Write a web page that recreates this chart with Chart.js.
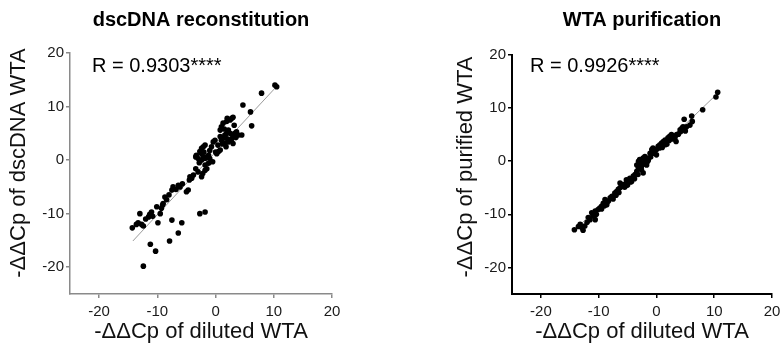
<!DOCTYPE html>
<html>
<head>
<meta charset="utf-8">
<script src="https://cdn.jsdelivr.net/npm/chart.js@4.4.1/dist/chart.umd.min.js"></script>
<style>
html,body{margin:0;padding:0;background:#fff;overflow:hidden;width:780px;height:346px;}
#c1{position:absolute;left:0;top:0;}
#c2{position:absolute;left:390px;top:0;}
</style>
</head>
<body>
<canvas id="c1" width="390" height="346"></canvas>
<canvas id="c2" width="410" height="346"></canvas>
<script>
// ---- data ----
const xTicks = [-20, -10, 0, 10, 20];
const yTicks = [-20, -10, 0, 10, 20];

const leftTitle = "dscDNA reconstitution";
const leftR = "R = 0.9303****";
const leftYLabel = "-\u0394\u0394Cp of dscDNA WTA";
const leftXLabel = "-\u0394\u0394Cp of diluted WTA";

const rightTitle = "WTA purification";
const rightR = "R = 0.9926****";
const rightYLabel = "-\u0394\u0394Cp of purified WTA";
const rightXLabel = "-\u0394\u0394Cp of diluted WTA";

const leftX = [-12.4,-14.3,-13.0,-13.3,-12.7,-12.4,-11.2,-10.3,-7.9,-6.4,-7.5,-5.8,-2.7,-1.8,-9.9,-11.5,-11.0,-11.3,-10.1,-9.5,
  -9.3,-9.0,-8.7,-8.4,-9.1,-7.5,-7.3,-6.4,-6.1,-5.7,-5.0,-4.7,-4.4,-4.1,-4.5,-3.4,-3.0,-2.4,-2.2,-1.8,
  -1.5,-3.3,-3.0,-2.7,-2.4,-2.1,-1.8,-2.4,-2.1,-1.8,-1.5,-1.2,-1.0,-1.2,-1.8,-0.7,-0.4,-0.1,0.2,0.5,
  0.8,0.8,1.0,1.3,1.6,1.9,1.0,1.3,1.9,2.5,2.8,3.0,1.6,2.2,2.5,2.8,3.0,3.3,3.6,3.9,
  4.5,3.0,4.7,6.0,6.2,7.9,10.2,10.5,0.8,2.2,-2.4,-3.4,
  -13.6,-12.0,-10.8,-8.0,-6.8,-3.8,-2.8,-2.0,-1.0,0.0,0.4,1.2,1.8,2.0,2.5,3.2,3.5,2.0,1.5,-0.5];
const leftY = [-19.8,-12.65,-10.0,-11.7,-12.0,-12.3,-15.7,-17.0,-15.1,-13.6,-11.2,-11.7,-10.0,-9.7,-11.7,-10.6,-9.7,-10.1,-8.7,-10.0,
  -9.0,-8.1,-6.9,-7.4,-8.4,-5.6,-5.0,-4.7,-5.0,-4.4,-5.9,-5.6,-3.1,-3.4,-3.7,-1.6,-2.2,-3.1,-2.5,-1.9,
  -1.6,0.9,0.3,1.6,2.2,2.5,2.8,0.0,0.6,0.3,0.6,0.9,0.3,-0.6,-0.9,2.5,3.4,3.7,1.2,1.6,
  1.9,4.4,3.7,4.1,4.7,5.0,6.2,6.9,7.2,7.5,7.8,8.0,3.1,3.4,3.7,4.0,4.4,5.0,5.3,4.7,
  4.7,3.1,10.3,9.0,6.4,12.5,14.0,13.7,5.6,5.6,1.2,0.6,
  -12.0,-11.0,-10.5,-6.5,-5.5,-2.8,-0.5,1.5,1.8,1.5,2.8,3.0,2.5,4.0,5.0,6.5,4.2,7.8,5.8,-0.3];

const rightX = [-14.2,-13.2,-12.7,-12.9,-12.4,-11.5,-11.2,-10.6,-10.1,-10.4,-9.8,-9.2,-8.9,-8.3,-8.0,-7.7,-7.2,-6.9,-6.6,-6.3,
  -6.0,-5.7,-5.2,-4.6,-4.3,-4.0,-3.7,-3.4,-3.1,-2.9,-3.4,-2.6,-2.9,-2.3,-2.0,-1.7,-1.4,-2.0,-1.7,-3.1,
  -2.6,-2.3,-1.1,-0.8,-0.6,-0.3,0.0,0.3,0.6,0.9,1.2,1.5,1.8,2.0,2.3,2.6,2.9,3.2,3.4,3.5,
  4.1,4.4,4.6,5.2,4.8,6.1,6.2,8.0,10.3,10.6,-0.6,0.0,0.9,1.5,-10.6,-9.5,-8.6,-5.2,-6.3,
  -13.5,-12.0,-11.8,-11.0,-10.8,-9.5,-9.0,-8.6,-7.5,-7.0,-6.5,-5.5,-5.0,-4.5,-3.8,-3.2,-2.6,-2.2,-1.5,-1.0,
  -0.5,0.5,1.0,1.8,2.2,2.8,3.8,4.2,5.0,5.8];
const rightY = [-12.9,-11.9,-13.0,-12.5,-12.2,-11.0,-9.7,-9.4,-9.1,-10.0,-8.8,-7.9,-7.2,-7.5,-6.9,-6.6,-6.0,-5.7,-5.3,-5.0,
  -4.7,-4.4,-3.5,-3.2,-3.8,-2.8,-2.5,-1.9,-1.3,-1.0,-0.7,-0.3,0.3,0.6,0.9,0.6,0.3,0.0,-0.7,0.0,
  -1.6,-2.2,1.5,2.2,2.5,1.9,2.2,2.8,3.1,3.4,3.7,4.0,3.7,4.4,4.7,5.0,4.7,4.4,3.7,5.0,
  5.9,6.2,6.5,6.5,7.9,8.5,7.5,9.7,12.1,13.0,1.5,1.2,2.8,3.1,-11.0,-8.5,-8.2,-4.1,-4.1,
  -12.3,-11.5,-10.6,-10.3,-9.9,-9.0,-8.4,-7.8,-7.1,-6.4,-5.9,-4.9,-4.5,-3.9,-3.3,-2.5,-1.0,-0.5,0.0,0.8,
  1.8,2.5,2.6,3.2,3.9,4.2,5.1,5.6,5.7,6.8];

// regression line end points
const leftFitX = [-14.2, 10.7];
const leftFitY = [-15.1, 14.0];
const rightFitX = [-14.1, 11.0];
const rightFitY = [-12.9, 13.2];

const FONT = "'Liberation Sans', Arial, sans-serif";

function pts(xs, ys){ return xs.map((x,i)=>({x:x, y:ys[i]})); }

const textPlugin = {
  id: 'texts',
  afterDraw(chart, args, o){
    const ctx = chart.ctx, a = chart.chartArea;
    ctx.save();
    ctx.fillStyle = '#000';
    // title
    ctx.font = "bold 20px " + FONT;
    ctx.textAlign = 'center'; ctx.textBaseline = 'alphabetic';
    ctx.fillText(o.title, (a.left + a.right)/2, 26);
    // R text
    ctx.font = "20px " + FONT;
    ctx.textAlign = 'left';
    ctx.fillText(o.r, a.left + o.rdx, 72);
    // x label
    ctx.font = "22px " + FONT;
    ctx.textAlign = 'center';
    ctx.fillStyle = '#111';
    ctx.fillText(o.xl, (a.left + a.right)/2, 338);
    // y label
    ctx.translate(o.ylx, o.yly);
    ctx.rotate(-Math.PI/2);
    ctx.textBaseline = 'middle';
    ctx.fillText(o.yl, 0, 0);
    ctx.restore();
  }
};

function makeChart(id, cfg){
  const axisCommon = (ticks, isX) => ({
    type: 'linear',
    min: -25,
    max: 20,
    afterBuildTicks: s => { s.ticks = ticks.map(v => ({value: v})); },
    afterFit: s => { if (isX) s.height = 30; else s.width = 40; },
    grid: { drawOnChartArea: false, drawTicks: true, tickLength: 4, color: cfg.axisColor, lineWidth: cfg.tickWidth },
    border: { display: true, color: cfg.axisColor, width: cfg.axisWidth },
    ticks: { color: '#1a1a1a', font: { family: FONT, size: 15 }, padding: isX ? 5 : 2, maxRotation: 0, autoSkip: false },
    title: { display: false }
  });
  return new Chart(document.getElementById(id), {
    type: 'scatter',
    data: {
      datasets: [
        { data: pts(cfg.px, cfg.py), backgroundColor: '#000', borderWidth: 0, pointRadius: 2.8, order: 1 },
        { type: 'line', data: pts(cfg.fx, cfg.fy), borderColor: '#9a9a9a', borderWidth: 1, pointRadius: 0, fill: false, order: 2 }
      ]
    },
    options: {
      responsive: false, animation: false, events: [],
      layout: { padding: cfg.pad },
      plugins: { legend: { display: false }, tooltip: { enabled: false }, title: { display: false },
        texts: cfg.texts },
      scales: { x: axisCommon(xTicks, true), y: axisCommon(yTicks, false) }
    },
    plugins: [textPlugin]
  });
}

makeChart('c1', {
  px: leftX, py: leftY, fx: leftFitX, fy: leftFitY,
  axisColor: '#8a8a8a', axisWidth: 1.5, tickWidth: 1.5,
  pad: { left: 30, right: 58, top: 53, bottom: 22 },
  texts: { title: leftTitle, r: leftR, rdx: 22, xl: leftXLabel, yl: leftYLabel, ylx: 19, yly: 163 }
});
makeChart('c2', {
  px: rightX, py: rightY, fx: rightFitX, fy: rightFitY,
  axisColor: '#000', axisWidth: 2, tickWidth: 1.5,
  pad: { left: 82, right: 28, top: 55, bottom: 22 },
  texts: { title: rightTitle, r: rightR, rdx: 18, xl: rightXLabel, yl: rightYLabel, ylx: 76, yly: 167 }
});
</script>
</body>
</html>
